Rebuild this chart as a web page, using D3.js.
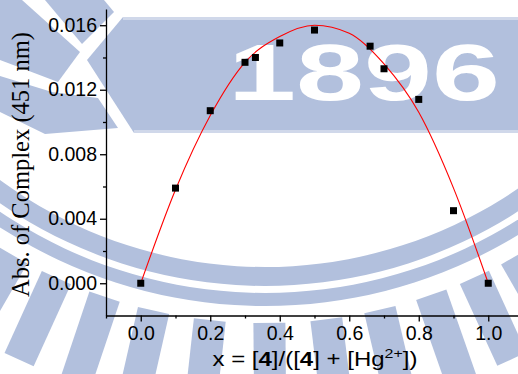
<!DOCTYPE html>
<html>
<head>
<meta charset="utf-8">
<script src="https://cdn.jsdelivr.net/npm/d3@7"></script>
<style>
  html, body { margin: 0; padding: 0; background: #fff; overflow: hidden; }
  svg { display: block; }
</style>
</head>
<body>
<svg id="chart" width="518" height="374"></svg>
<script>
// Job's plot: absorbance of the complex at 451 nm against mole fraction of 4
const moleFraction = [0, 0.1, 0.2, 0.3, 0.33, 0.4, 0.5, 0.66, 0.7, 0.8, 0.9, 1.0];
const absorbance   = [0.0000, 0.0059, 0.0107, 0.0137, 0.0140, 0.0149, 0.0157, 0.0147, 0.0133, 0.0114, 0.0045, 0.0000];

// fitted curve, read at steps of 0.1
const fitX = [0, 0.1, 0.2, 0.3, 0.4, 0.5, 0.6, 0.7, 0.8, 0.9, 1.0];
const fitY = [0, 0.0058, 0.0104, 0.0137, 0.0153, 0.0160, 0.0155, 0.0136, 0.0106, 0.0059, 0];

const xMajor = [0, 0.2, 0.4, 0.6, 0.8, 1.0];
const xMinor = [-0.1, 0.1, 0.3, 0.5, 0.7, 0.9];
const yMajor = [0, 0.004, 0.008, 0.012, 0.016];
const yMinor = [0.002, 0.006, 0.010, 0.014];

const svg = d3.select("#chart");

// ---------- background emblem ----------
const wm = svg.append("g").attr("fill", "#b2c0dd");
const ribbonPieces = [
  [[0,0],[22,0],[80,52],[58,82],[0,60]],
  [[45,0],[104,0],[114,12],[82,44]],
  [[0,76],[52,92],[98,98],[118,128],[45,134],[0,112]]
];
ribbonPieces.forEach(p => wm.append("polygon").attr("points", p.map(q => q.join(",")).join(" ")));

// banner
wm.append("polygon").attr("points", "123,17 518,17 518,133 134,133 87,60");
wm.append("rect").attr("x", 123).attr("y", 17).attr("width", 395).attr("height", 3).attr("fill", "#d0d8ea");
wm.append("rect").attr("x", 134).attr("y", 130).attr("width", 384).attr("height", 3).attr("fill", "#d0d8ea");

const year = svg.append("text")
  .attr("font-family", "Liberation Sans, Arial, sans-serif")
  .attr("font-size", 80)
  .attr("font-weight", "bold")
  .attr("fill", "#ffffff")
  .text("1896");
{
  const bb = year.node().getBBox();
  const sx = 272 / bb.width;
  year.attr("transform", `translate(${228 - bb.x * sx},100) scale(${sx},1)`);
}

// ring and teeth
const ringC = [265, -180];
const arcGen = d3.arc();
const ring = wm.append("g").attr("transform", `translate(${ringC[0]},${ringC[1]})`);
[[447, 466], [473, 486]].forEach(([r0, r1]) => {
  ring.append("path").attr("d", arcGen({
    innerRadius: r0, outerRadius: r1,
    startAngle: Math.PI - 1.0, endAngle: Math.PI + 1.0
  }));
});
const toothAngles = [-30, -24.5, -18.6, -12.8, -6.3, 0.5, 7, 13.2, 19.3, 24.6, 29.8, 35.5];
toothAngles.forEach(a => {
  ring.append("rect")
    .attr("transform", `rotate(${-a})`)
    .attr("x", -16).attr("y", 503)
    .attr("width", 32).attr("height", 90);
});

// ---------- plot ----------
const x = d3.scaleLinear().domain([-0.1, 1.1]).range([106, 523]);
const y = d3.scaleLinear().domain([-0.002, 0.017]).range([315.5, 9.1]);

const font = "Liberation Sans, Arial, sans-serif";

svg.append("g").attr("transform", "translate(106,0)")
  .call(d3.axisLeft(y).tickValues(yMajor).tickFormat(d3.format(".3f"))
    .tickSize(6).tickSizeOuter(0).tickPadding(3));
svg.append("g").attr("transform", "translate(106,0)")
  .call(d3.axisLeft(y).tickValues(yMinor).tickFormat("").tickSize(3).tickSizeOuter(0))
  .select(".domain").remove();

svg.append("g").attr("transform", "translate(0,315.5)")
  .call(d3.axisBottom(x).tickValues(xMajor).tickFormat(d3.format(".1f"))
    .tickSize(6).tickSizeOuter(0).tickPadding(5));
svg.append("g").attr("transform", "translate(0,315.5)")
  .call(d3.axisBottom(x).tickValues(xMinor).tickFormat("").tickSize(3).tickSizeOuter(0))
  .select(".domain").remove();

svg.selectAll(".domain, .tick line").attr("stroke", "#000").attr("stroke-width", 1.3);
svg.selectAll(".tick text").attr("font-family", font).attr("font-size", 19.5).attr("fill", "#000");

// fitted curve
svg.append("path")
  .datum(fitX.map((v, i) => [v, fitY[i]]))
  .attr("fill", "none")
  .attr("stroke", "#ff0000")
  .attr("stroke-width", 1.1)
  .attr("d", d3.line().x(d => x(d[0])).y(d => y(d[1])).curve(d3.curveMonotoneX));

// measured points
const sq = 7;
svg.append("g").selectAll("rect")
  .data(moleFraction.map((v, i) => [v, absorbance[i]]))
  .join("rect")
  .attr("x", d => x(d[0]) - sq / 2)
  .attr("y", d => y(d[1]) - sq / 2)
  .attr("width", sq).attr("height", sq)
  .attr("fill", "#000");

// y axis title
const yTitle = svg.append("text")
  .attr("font-family", "Liberation Serif, Times New Roman, serif")
  .attr("font-size", 26)
  .attr("fill", "#000")
  .attr("text-anchor", "middle")
  .text("Abs. of Complex (451 nm)");
{
  const w = yTitle.node().getComputedTextLength();
  const s = 265 / w;
  yTitle.attr("transform", `translate(29,164.5) rotate(-90) scale(${s},1)`);
}

// x axis title
const xTitle = svg.append("text")
  .attr("font-family", font)
  .attr("font-size", 19.5)
  .attr("fill", "#000");
xTitle.append("tspan").text("x = [");
xTitle.append("tspan").attr("font-weight", "bold").text("4");
xTitle.append("tspan").text("]/([");
xTitle.append("tspan").attr("font-weight", "bold").text("4");
xTitle.append("tspan").text("] + [Hg");
xTitle.append("tspan").attr("font-size", 13).attr("dy", -8).text("2+");
xTitle.append("tspan").attr("dy", 8).text("])");
{
  const bb = xTitle.node().getBBox();
  const s = 205 / bb.width;
  xTitle.attr("transform", `translate(${212.5 - bb.x * s},366) scale(${s},1)`);
}
</script>
</body>
</html>
